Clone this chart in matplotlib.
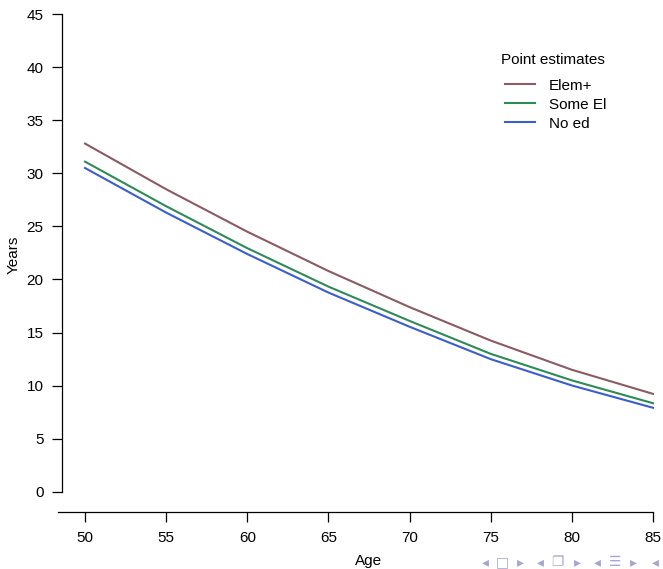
import matplotlib
matplotlib.use("Agg")
import matplotlib.pyplot as plt

plt.rcParams['font.family'] = ['Liberation Sans', 'DejaVu Sans']

age = [50, 55, 60, 65, 70, 75, 80, 85]
elem = [32.8, 28.5, 24.5, 20.8, 17.4, 14.25, 11.5, 9.23]
some_el = [31.1, 26.9, 22.95, 19.33, 16.1, 13.0, 10.5, 8.35]
no_ed = [30.5, 26.3, 22.4, 18.77, 15.55, 12.5, 10.02, 7.92]

series = [("Elem+", elem, "#8b5a62"),
          ("Some El", some_el, "#2e8b57"),
          ("No ed", no_ed, "#3a5fcd")]

W, H = 663, 569
fig = plt.figure(figsize=(W / 100, H / 100), dpi=100)
# axes box in pixels (R-style 4% padding around data)
left, right, bottom, top = 62.3, 675.7, 511.0, -5.1
ax = fig.add_axes([left / W, (H - bottom) / H, (right - left) / W, (bottom - top) / H])

for name, vals, col in series:
    ax.plot(age, vals, color=col, lw=1.5, label=name)

ax.set_xlim(48.6, 86.4)
ax.set_ylim(-1.8, 46.8)
ax.set_xticks(range(50, 86, 5))
ax.set_yticks(range(0, 46, 5))
ax.spines['top'].set_visible(False)
ax.spines['right'].set_visible(False)
ax.spines['left'].set_bounds(0, 45)
ax.spines['bottom'].set_bounds(48.35, 85)
ax.spines['bottom'].set_position(('outward', 1))
for s in ('left', 'bottom'):
    ax.spines[s].set_linewidth(0.9)
ax.tick_params(axis='both', direction='out', length=7.5, width=0.9, labelsize=11)
ax.tick_params(axis='x', pad=6)
ax.tick_params(axis='y', pad=6)
ax.set_facecolor('none')

fig.text(369 / W, 1 - 561 / H, "Age", ha='center', va='center', fontsize=11)
fig.text(14 / W, 1 - 255 / H, "Years", ha='center', va='center', fontsize=11, rotation=90)

# legend title drawn separately to get the R spacing
fig.text(553 / W, 1 - 60 / H, "Point estimates", ha='center', va='center', fontsize=11)
leg = ax.legend(loc='upper left',
                bbox_to_anchor=(491 / W, 1 - 65 / H), bbox_transform=fig.transFigure,
                frameon=False, fontsize=11,
                handlelength=2.0, handletextpad=0.9, labelspacing=0.32)

# beamer navigation symbols
nav_x = [485, 502, 520, 540, 557, 577, 597, 615, 633, 655]
nav_s = ["◂", "□", "▸", "◂", "❐", "▸", "◂", "☰", "▸", "◂"]
for x, s in zip(nav_x, nav_s):
    fig.text(x / W, 1 - 562 / H, s, ha='center', va='center', fontsize=10,
             color='#a5a5d6', family=['DejaVu Sans'])

fig.savefig("out.png", dpi=100)
